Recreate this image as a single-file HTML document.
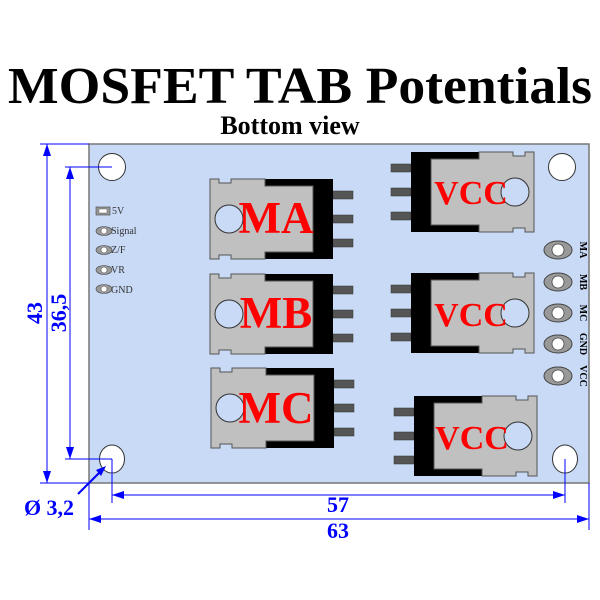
<!DOCTYPE html>
<html><head><meta charset="utf-8"><style>html,body{margin:0;padding:0;background:#fff}svg{display:block}</style></head>
<body>
<svg width="600" height="600" viewBox="0 0 600 600" xmlns="http://www.w3.org/2000/svg" font-family="Liberation Serif, serif">
<defs>
<g id="mos">
  <rect x="123" y="12" width="20" height="8" fill="#555" stroke="#333" stroke-width="0.5"/>
  <rect x="123" y="36" width="20" height="8" fill="#555" stroke="#333" stroke-width="0.5"/>
  <rect x="123" y="60" width="20" height="8" fill="#555" stroke="#333" stroke-width="0.5"/>
  <rect x="55" y="0" width="68" height="80" fill="#000"/>
  <polygon points="0,0 9,0 9,4 21,4 21,0 55,0 55,7 103,7 103,73 55,73 55,80 21,80 21,76 9,76 9,80 0,80" fill="#c0c0c0" stroke="#555" stroke-width="1"/>
  <circle cx="19" cy="40" r="14" fill="#c8daf5" stroke="#333" stroke-width="1"/>
</g>
<g id="oval"><ellipse cx="0" cy="0" rx="14" ry="9" fill="#999" stroke="#444"/><circle cx="0" cy="0" r="6" fill="#fff" stroke="#444" stroke-width="0.8"/></g>
<g id="oval2"><ellipse cx="0" cy="0" rx="8" ry="4.5" fill="#999" stroke="#444" stroke-width="0.6"/><circle cx="0" cy="0" r="3" fill="#fff" stroke="#444" stroke-width="0.5"/></g>
</defs>

<text x="300" y="103" text-anchor="middle" font-size="52" font-weight="bold" textLength="584" lengthAdjust="spacingAndGlyphs">MOSFET TAB Potentials</text>
<text x="290" y="134" text-anchor="middle" font-size="26" font-weight="bold">Bottom view</text>

<rect x="89" y="144" width="500" height="339" fill="#c8daf5" stroke="#777" stroke-width="1.5"/>

<circle cx="112" cy="167" r="13.5" fill="#fff" stroke="#333"/>
<circle cx="562" cy="167" r="13.5" fill="#fff" stroke="#333"/>
<ellipse cx="112" cy="459" rx="12.5" ry="14" fill="#fff" stroke="#333"/>
<ellipse cx="565" cy="459" rx="12.5" ry="14" fill="#fff" stroke="#333"/>

<use href="#mos" transform="translate(210,179)"/>
<use href="#mos" transform="translate(210,274)"/>
<use href="#mos" transform="translate(211,368)"/>
<g fill="#f00" font-weight="bold" font-size="45" text-anchor="middle">
<text x="276" y="233">MA</text>
<text x="276" y="328">MB</text>
<text x="276" y="423">MC</text>
</g>

<use href="#mos" transform="translate(534,152) scale(-1,1)"/>
<use href="#mos" transform="translate(534,273) scale(-1,1)"/>
<use href="#mos" transform="translate(537,396) scale(-1,1)"/>
<g fill="#f00" font-weight="bold" font-size="34" text-anchor="middle">
<text x="471" y="204">VCC</text>
<text x="471" y="326">VCC</text>
<text x="472" y="449">VCC</text>
</g>

<rect x="96" y="207" width="14" height="8" fill="#999" stroke="#444" stroke-width="0.6"/>
<rect x="99" y="209" width="8" height="4" fill="#fff" stroke="#444" stroke-width="0.4"/>
<use href="#oval2" x="104" y="231"/>
<use href="#oval2" x="104" y="250"/>
<use href="#oval2" x="104" y="270"/>
<use href="#oval2" x="104" y="289"/>
<g font-size="10" fill="#333">
<text x="112" y="214">5V</text>
<text x="111" y="234">Signal</text>
<text x="111" y="253">Z/F</text>
<text x="111" y="273">VR</text>
<text x="111" y="293">GND</text>
</g>

<use href="#oval" x="558" y="250"/>
<use href="#oval" x="558" y="282"/>
<use href="#oval" x="558" y="313"/>
<use href="#oval" x="558" y="344"/>
<use href="#oval" x="558" y="376"/>
<g font-size="10" font-weight="bold" fill="#000" text-anchor="middle">
<text transform="translate(580,250) rotate(90)">MA</text>
<text transform="translate(580,282) rotate(90)">MB</text>
<text transform="translate(580,313) rotate(90)">MC</text>
<text transform="translate(580,344) rotate(90)">GND</text>
<text transform="translate(580,376) rotate(90)">VCC</text>
</g>

<g stroke="#00f" stroke-width="1" fill="none">
<line x1="40" y1="144" x2="89" y2="144"/>
<line x1="40" y1="483" x2="89" y2="483"/>
<line x1="47" y1="144" x2="47" y2="483"/>
<line x1="65" y1="167" x2="112" y2="167"/>
<line x1="65" y1="459" x2="112" y2="459"/>
<line x1="70" y1="167" x2="70" y2="459"/>
<line x1="112" y1="459" x2="112" y2="503"/>
<line x1="565" y1="459" x2="565" y2="503"/>
<line x1="112" y1="495" x2="565" y2="495"/>
<line x1="89" y1="483" x2="89" y2="530"/>
<line x1="589" y1="483" x2="589" y2="530"/>
<line x1="89" y1="519" x2="589" y2="519"/>
<line x1="78" y1="494" x2="104" y2="468" stroke-width="2"/>
</g>
<g fill="#00f">
<polygon points="47,144 43,156 51,156"/>
<polygon points="47,483 43,471 51,471"/>
<polygon points="70,167 66,179 74,179"/>
<polygon points="70,459 66,447 74,447"/>
<polygon points="112,495 124,491 124,499"/>
<polygon points="565,495 553,491 553,499"/>
<polygon points="89,519 101,515 101,523"/>
<polygon points="589,519 577,515 577,523"/>
<polygon points="106,466 96,470 101,476"/>
</g>
<g fill="#00f" font-weight="bold" font-size="22" text-anchor="middle">
<text transform="translate(42,313) rotate(-90)">43</text>
<text transform="translate(66,313) rotate(-90)">36,5</text>
<text x="338" y="512">57</text>
<text x="338" y="538">63</text>
<text x="49" y="515">Ø 3,2</text>
</g>
</svg>
</body></html>
